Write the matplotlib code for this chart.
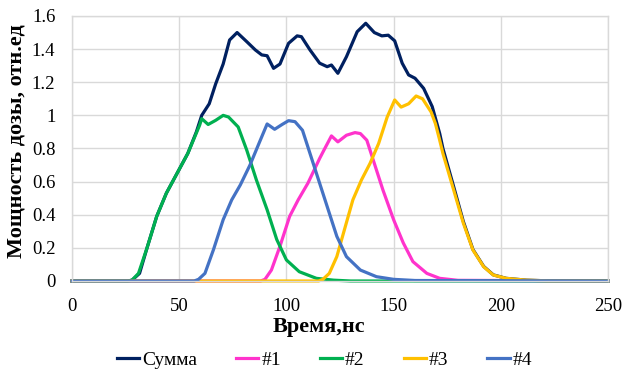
import matplotlib
matplotlib.use("Agg")
import matplotlib.pyplot as plt

plt.rcParams['font.family'] = ['Liberation Serif', 'DejaVu Serif']

# Dose-rate pulses (time in ns, relative units)
sum_t = [0, 26, 28, 31.5, 35, 39.5, 44, 49, 54, 58, 60.5, 64, 67, 70.5, 73.5, 77,
         81.5, 85.5, 88.5, 91, 94, 97, 101, 105, 107, 111, 115.5, 119, 121, 124,
         128, 133, 137, 141, 144.5, 147.5, 150.5, 154, 157, 160, 164, 168, 171.5,
         173, 178, 182.5, 187, 192, 196.5, 202.5, 212, 222, 250]
sum_v = [0, 0, 0.005, 0.046, 0.2, 0.39, 0.53, 0.65, 0.77, 0.9, 1.0, 1.07, 1.19,
         1.31, 1.455, 1.50, 1.445, 1.395, 1.365, 1.36, 1.284, 1.31, 1.435, 1.48,
         1.475, 1.395, 1.315, 1.294, 1.304, 1.254, 1.354, 1.505, 1.556, 1.50,
         1.48, 1.484, 1.45, 1.315, 1.244, 1.224, 1.163, 1.053, 0.89, 0.8, 0.57,
         0.36, 0.19, 0.088, 0.037, 0.016, 0.005, 0.001, 0]

p1_t = [0, 88, 90, 93, 97, 101.5, 105.5, 110, 115.5, 117.5, 121, 124, 128, 132,
        134.5, 137.5, 140.5, 145, 150, 154.5, 159, 165.5, 171.5, 180, 250]
p1_v = [0, 0, 0.01, 0.066, 0.21, 0.39, 0.49, 0.59, 0.74, 0.79, 0.876, 0.84, 0.88,
        0.896, 0.89, 0.85, 0.73, 0.55, 0.37, 0.23, 0.117, 0.046, 0.016, 0.004, 0]

p2_t = [0, 26, 28, 31, 35, 39.5, 44, 49, 54, 59.5, 60.5, 63.5, 67, 70.5, 73,
        77.5, 81.5, 86, 91, 95.5, 100, 106, 114, 122, 130, 250]
p2_v = [0, 0, 0.005, 0.046, 0.2, 0.39, 0.53, 0.65, 0.77, 0.94, 0.98, 0.945, 0.97,
        1.0, 0.99, 0.93, 0.79, 0.61, 0.43, 0.25, 0.127, 0.056, 0.016, 0.005, 0.0, 0]

p3_t = [0, 115, 117, 120, 123.5, 127.5, 131, 135, 139, 143, 147, 150.5, 153.5,
        157, 160.5, 163.5, 165.5, 167.5, 169.5, 171.3, 173, 178, 182.5, 187, 192,
        196.5, 202.5, 212, 222, 250]
p3_v = [0, 0, 0.01, 0.046, 0.147, 0.33, 0.49, 0.61, 0.71, 0.83, 0.99, 1.093, 1.05,
        1.07, 1.117, 1.10, 1.06, 1.02, 0.95, 0.86, 0.77, 0.55, 0.35, 0.187, 0.086,
        0.036, 0.016, 0.005, 0.001, 0]

p4_t = [0, 57, 59, 62, 66, 70.5, 74.5, 78.5, 83, 87.5, 91, 94.5, 98, 101, 104,
        107.5, 111.5, 115.5, 119, 123.5, 128, 134.5, 142, 150, 160, 250]
p4_v = [0, 0, 0.01, 0.046, 0.19, 0.37, 0.49, 0.58, 0.70, 0.84, 0.948, 0.916, 0.945,
        0.968, 0.962, 0.91, 0.75, 0.59, 0.45, 0.27, 0.147, 0.066, 0.026, 0.01,
        0.003, 0]

series = [
    ("Сумма", sum_t, sum_v, "#002060"),
    ("#1", p1_t, p1_v, "#FF33CC"),
    ("#2", p2_t, p2_v, "#00B050"),
    ("#3", p3_t, p3_v, "#FFC000"),
    ("#4", p4_t, p4_v, "#4472C4"),
]

x_ticks = [0, 50, 100, 150, 200, 250]
y_ticks = [0, 0.2, 0.4, 0.6, 0.8, 1.0, 1.2, 1.4, 1.6]
y_tick_labels = ["0", "0.2", "0.4", "0.6", "0.8", "1", "1.2", "1.4", "1.6"]

fig = plt.figure(figsize=(6.24, 3.71), dpi=100)
ax = fig.add_axes([0.1154, 0.2426, 0.8590, 0.7143])

for name, t, v, c in series:
    ax.plot(t, v, color=c, lw=2.3, label=name, solid_joinstyle='round',
            clip_on=False)

ax.set_xlim(0, 250)
ax.set_ylim(0, 1.6)
ax.set_xticks(x_ticks)
ax.set_yticks(y_ticks)
ax.set_yticklabels(y_tick_labels)
ax.tick_params(length=0, labelsize=13.5)
ax.tick_params(axis="x", pad=12)
ax.tick_params(axis="y", pad=12)
ax.grid(True, color="#D9D9D9", lw=1.0)
ax.set_axisbelow(True)
for s in ax.spines.values():
    s.set_color("#D9D9D9")
    s.set_linewidth(1.0)

fig.text(0.511, 0.119, "Время,нс", ha="center", va="center",
         fontsize=16, fontweight="bold")
fig.text(0.027, 0.619, "Мощность дозы, отн.ед", ha="center", va="center",
         rotation=90, fontsize=16, fontweight="bold")

fig.legend(loc="center", bbox_to_anchor=(0.52, 0.03), ncol=5, frameon=False,
           fontsize=14, handlelength=1.15, handletextpad=0.15, columnspacing=2.0,
           borderpad=0)

fig.savefig("out.png", dpi=100)
